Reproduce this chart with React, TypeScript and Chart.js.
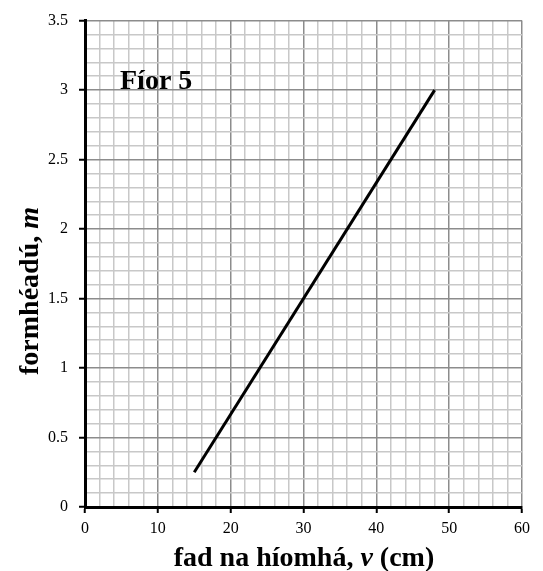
import React, { useEffect, useRef } from "react";
import { Chart, registerables } from "chart.js";

Chart.register(...registerables);

const seriesV = [15, 48];
const seriesM = [0.25, 3];
const xRange = [0, 60];
const yRange = [0, 3.5];
const xMinorStep = 2;
const yMinorStep = 0.1;
const xMajorStep = 10;
const yMajorStep = 0.5;
const chartLabel = "Fíor 5";
const xTitleParts = [
  { t: "fad na híomhá, ", italic: false },
  { t: "v", italic: true },
  { t: " (cm)", italic: false },
];
const yTitleParts = [
  { t: "formhéadú, ", italic: false },
  { t: "m", italic: true },
];

const isMajor = (v: number, step: number) => {
  const r = v / step;
  return Math.abs(r - Math.round(r)) < 1e-6;
};

const SERIF = "'Liberation Serif', 'Times New Roman', serif";

const textPlugin = {
  id: "customText",
  afterDraw(chart: any) {
    const ctx = chart.ctx as CanvasRenderingContext2D;
    const area = chart.chartArea;
    ctx.save();
    ctx.fillStyle = "#000";
    ctx.textBaseline = "alphabetic";
    const fontFor = (italic: boolean, size: number) =>
      `${italic ? "italic " : ""}bold ${size}px ${SERIF}`;
    const drawParts = (parts: any[], size: number) => {
      let total = 0;
      parts.forEach((p) => {
        ctx.font = fontFor(p.italic, size);
        total += ctx.measureText(p.t).width;
      });
      let x = -total / 2;
      parts.forEach((p) => {
        ctx.font = fontFor(p.italic, size);
        ctx.textAlign = "left";
        ctx.fillText(p.t, x, 0);
        x += ctx.measureText(p.t).width;
      });
    };
    // x title
    ctx.save();
    ctx.translate(304, 566);
    drawParts(xTitleParts, 28);
    ctx.restore();
    // y title
    ctx.save();
    ctx.translate(38, 291);
    ctx.rotate(-Math.PI / 2);
    drawParts(yTitleParts, 28);
    ctx.restore();
    // chart label
    ctx.font = `bold 28px ${SERIF}`;
    ctx.textAlign = "left";
    ctx.fillText(chartLabel, 120, 89);
    ctx.restore();
  },
};

export default function App() {
  const ref = useRef<HTMLCanvasElement | null>(null);
  useEffect(() => {
    document.body.style.margin = "0";
    const canvas = ref.current!;
    const chart = new Chart(canvas, {
      type: "scatter",
      data: {
        datasets: [
          {
            data: seriesV.map((v, i) => ({ x: v, y: seriesM[i] })),
            showLine: true,
            borderColor: "#000",
            borderWidth: 3,
            pointRadius: 0,
            pointHoverRadius: 0,
            fill: false,
          },
        ],
      },
      options: {
        animation: false,
        responsive: false,
        devicePixelRatio: 1,
        layout: { padding: { left: 0, right: 21, top: 20, bottom: 0 } },
        plugins: { legend: { display: false }, tooltip: { enabled: false } },
        scales: {
          x: {
            type: "linear",
            min: xRange[0],
            max: xRange[1],
            afterFit: (s: any) => {
              s.height = 64;
            },
            ticks: {
              stepSize: xMinorStep,
              autoSkip: false,
              maxRotation: 0,
              padding: 6,
              color: "#000",
              font: { family: SERIF, size: 16 },
              callback: (v: any) => (isMajor(Number(v), xMajorStep) ? String(v) : ""),
            },
            grid: {
              color: (c: any) =>
                isMajor(c.tick.value, xMajorStep) ? "#8c8c8c" : "#c8c8c8",
              lineWidth: 1.5,
              tickLength: 6,
              tickColor: (c: any) =>
                isMajor(c.tick.value, xMajorStep) ? "#000" : "rgba(0,0,0,0)",
              tickWidth: 2,
            },
            border: { color: "#000", width: 3 },
          },
          y: {
            type: "linear",
            min: yRange[0],
            max: yRange[1],
            afterFit: (s: any) => {
              s.width = 85;
            },
            ticks: {
              stepSize: yMinorStep,
              autoSkip: false,
              padding: 11,
              color: "#000",
              font: { family: SERIF, size: 16 },
              callback: (v: any) => {
                const n = Math.round(Number(v) * 10) / 10;
                return isMajor(n, yMajorStep) ? String(n) : "";
              },
            },
            grid: {
              color: (c: any) =>
                isMajor(c.tick.value, yMajorStep) ? "#8c8c8c" : "#c8c8c8",
              lineWidth: 1.5,
              tickLength: 6,
              tickColor: (c: any) =>
                isMajor(c.tick.value, yMajorStep) ? "#000" : "rgba(0,0,0,0)",
              tickWidth: 2,
            },
            border: { color: "#000", width: 3 },
          },
        },
      },
      plugins: [textPlugin],
    } as any);
    return () => chart.destroy();
  }, []);
  return (
    <div style={{ width: 543, height: 571, background: "#fff" }}>
      <canvas ref={ref} width={543} height={571} style={{ display: "block" }} />
    </div>
  );
}
